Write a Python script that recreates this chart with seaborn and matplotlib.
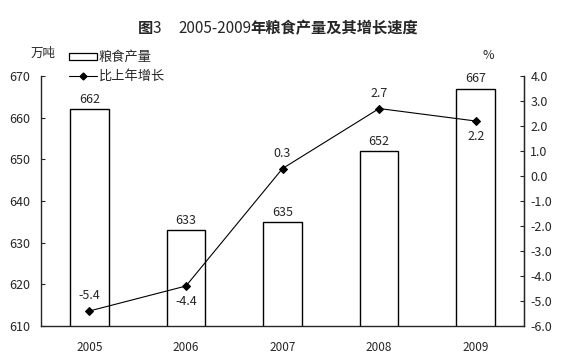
import numpy as np
import pandas as pd
import matplotlib
matplotlib.use("Agg")
import matplotlib.pyplot as plt
import seaborn as sns
from matplotlib.lines import Line2D
from matplotlib.patches import Patch
from matplotlib.ticker import FixedLocator

years = ["2005", "2006", "2007", "2008", "2009"]
output = [662, 633, 635, 652, 667]          # 万吨
growth = [-5.4, -4.4, 0.3, 2.7, 2.2]        # %
growth_below = [False, True, False, False, True]

sns.set_style("white")
plt.rcParams["font.family"] = ["Noto Sans CJK SC", "DejaVu Sans"]

df = pd.DataFrame({"year": years, "output": output, "growth": growth})

fig = plt.figure(figsize=(5.65, 3.6), dpi=100)
ax = fig.add_axes([0.0726, 0.0944, 0.8549, 0.6944])

sns.barplot(data=df, x="year", y="output", ax=ax, color="white",
            edgecolor="black", linewidth=1, width=0.4, zorder=2)
ax.set_ylim(610, 670)
ax.set_xlim(-0.5, 4.5)
ax.set_yticks(np.arange(610, 671, 10))
ax.set_xlabel("")
ax.set_ylabel("")
ax.set_xticks(range(5))
ax.set_xticklabels(years)
ax.xaxis.set_minor_locator(FixedLocator([0.5, 1.5, 2.5, 3.5]))
ax.tick_params(axis="x", which="major", length=0, pad=11, labelsize=8.5)
ax.tick_params(axis="x", which="minor", direction="in", length=4, width=0.8)
ax.tick_params(axis="y", direction="in", length=3, width=0.8, labelsize=9, pad=8)
for s in ax.spines.values():
    s.set_color("black")
    s.set_linewidth(0.9)
ax.spines["top"].set_visible(False)

for i, v in enumerate(output):
    ax.text(i, v + 0.8, str(v), ha="center", va="bottom", fontsize=9)

ax2 = ax.twinx()
sns.lineplot(x=np.arange(5), y=growth, ax=ax2, color="black", linewidth=0.8,
             marker="D", markersize=4, markeredgecolor="black", zorder=3)
ax2.set_ylim(-6, 4)
ax2.set_yticks(np.arange(-6, 4.01, 1))
ax2.set_yticklabels([f"{t:.1f}" for t in np.arange(-6, 4.01, 1)])
ax2.tick_params(axis="y", direction="in", length=3, width=0.8, labelsize=9, pad=4.5)
ax2.spines["top"].set_visible(False)
ax2.spines["right"].set_linewidth(0.9)
for i, v in enumerate(growth):
    if growth_below[i]:
        ax2.text(i, v - 0.35, f"{v:.1f}", ha="center", va="top", fontsize=9)
    else:
        ax2.text(i, v + 0.35, f"{v:.1f}", ha="center", va="bottom", fontsize=9)

handles = [Patch(facecolor="white", edgecolor="black", linewidth=0.9),
           Line2D([], [], color="black", linewidth=0.8, marker="D", markersize=3.5)]
fig.legend(handles, ["粮食产量", "比上年增长"], loc="upper left",
           bbox_to_anchor=(0.122, 0.858), frameon=False, fontsize=9.5,
           handlelength=2.1, handleheight=0.4, handletextpad=0.15,
           labelspacing=0.45, borderaxespad=0, borderpad=0)

fig.text(0.076, 0.853, "万吨", fontsize=9, ha="center", va="center")
fig.text(0.865, 0.847, "%", fontsize=9, ha="center", va="center")

# title: bold/regular pieces
ty = 0.922
fig.text(0.2442, ty, "图", fontsize=11, fontweight="bold", ha="left", va="center")
fig.text(0.2708, ty, "3", fontsize=11, ha="left", va="center")
fig.text(0.315, ty, "2005-2009", fontsize=11, ha="left", va="center")
fig.text(0.4425, ty, "年粮食产量及其增长速度", fontsize=11, fontweight="bold",
         ha="left", va="center")

fig.savefig("out.png", dpi=100)
